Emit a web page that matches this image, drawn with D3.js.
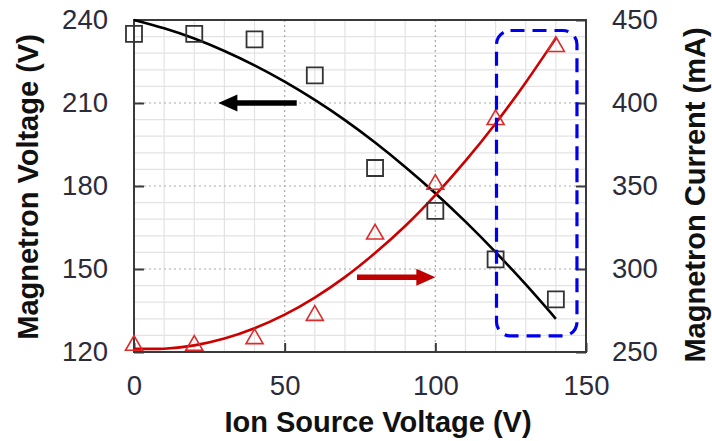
<!DOCTYPE html>
<html>
<head>
<meta charset="utf-8">
<script src="https://cdn.jsdelivr.net/npm/d3@7"></script>
<style>
  html, body { margin: 0; padding: 0; background: #fff; }
  svg { display: block; }
</style>
</head>
<body>
<svg id="chart" width="712" height="441"></svg>
<script>
// Ion source voltage (V) at each measurement
const ionVoltage = [0, 20, 40, 60, 80, 100, 120, 140];
// Magnetron voltage (V), left axis, square markers
const magnetronVoltage = [235, 235, 233, 220, 186.5, 171, 153.5, 139];
// Magnetron current (mA), right axis, triangle markers
const magnetronCurrent = [254, 254, 258, 272, 321, 351, 390, 434];

// Trend lines
const trendX = [0, 10, 20, 30, 40, 50, 60, 70, 80, 90, 100, 110, 120, 130, 140];
const voltageTrend = [240, 237, 233.3, 228.8, 223.6, 217.7, 211.1, 203.8, 195.7, 186.9, 177.4, 167.1, 156.1, 144.4, 132];
const currentTrend = [252, 252, 254, 258.1, 264.3, 272.5, 282.8, 295.1, 309.6, 325.9, 344.5, 365.1, 387.7, 412.4, 439];

// Axis ticks
const xTicks = [0, 50, 100, 150];
const yLeftTicks = [120, 150, 180, 210, 240];
const yRightTicks = [250, 300, 350, 400, 450];

const svg = d3.select("#chart");
const M = { left: 134, right: 586, top: 20, bottom: 352 };

const x = d3.scaleLinear().domain([0, 150]).range([M.left, M.right]);
const yL = d3.scaleLinear().domain([120, 240]).range([M.bottom, M.top]);
const yR = d3.scaleLinear().domain([250, 450]).range([M.bottom, M.top]);

// Minor grid
const grid = svg.append("g");
grid.selectAll("line.vx").data(d3.range(10, 150, 10).filter(v => v % 50 !== 0))
  .join("line")
  .attr("x1", d => x(d)).attr("x2", d => x(d))
  .attr("y1", M.top).attr("y2", M.bottom)
  .attr("stroke", "#e3e3e3").attr("stroke-width", 1.2);
grid.selectAll("line.hy").data(d3.range(126, 240, 6).filter(v => (v - 120) % 30 !== 0))
  .join("line")
  .attr("x1", M.left).attr("x2", M.right)
  .attr("y1", d => yL(d)).attr("y2", d => yL(d))
  .attr("stroke", "#e3e3e3").attr("stroke-width", 1.2);
// Major grid (dotted)
grid.selectAll("line.mx").data([50, 100])
  .join("line")
  .attr("x1", d => x(d)).attr("x2", d => x(d))
  .attr("y1", M.top).attr("y2", M.bottom)
  .attr("stroke", "#aaaaaa").attr("stroke-width", 1.2).attr("stroke-dasharray", "2,3");
grid.selectAll("line.my").data([150, 180, 210])
  .join("line")
  .attr("x1", M.left).attr("x2", M.right)
  .attr("y1", d => yL(d)).attr("y2", d => yL(d))
  .attr("stroke", "#aaaaaa").attr("stroke-width", 1.2).attr("stroke-dasharray", "2,3");

// Plot frame
svg.append("rect")
  .attr("x", M.left).attr("y", M.top)
  .attr("width", M.right - M.left).attr("height", M.bottom - M.top)
  .attr("fill", "none").attr("stroke", "#3a3a3a").attr("stroke-width", 2);

// Axes with inward ticks
function styleAxis(g) {
  g.select(".domain").remove();
  g.selectAll(".tick line").attr("stroke", "#3a3a3a").attr("stroke-width", 2);
  g.selectAll(".tick text")
    .attr("fill", "#2b2b3a")
    .style("font-family", "'Liberation Sans', Arial, sans-serif")
    .style("font-size", "27.5px");
}
svg.append("g").attr("transform", `translate(${M.left},0)`)
  .call(d3.axisLeft(yL).tickValues(yLeftTicks).tickSize(-10).tickPadding(26))
  .call(styleAxis);
svg.append("g").attr("transform", `translate(${M.right},0)`)
  .call(d3.axisRight(yR).tickValues(yRightTicks).tickSize(-10).tickPadding(26))
  .call(styleAxis);
svg.append("g").attr("transform", `translate(0,${M.bottom})`)
  .call(d3.axisBottom(x).tickValues(xTicks).tickSize(-9).tickPadding(23))
  .call(styleAxis);

// Trend curves
const lineL = d3.line().x((d, i) => x(trendX[i])).y(d => yL(d)).curve(d3.curveNatural);
const lineR = d3.line().x((d, i) => x(trendX[i])).y(d => yR(d)).curve(d3.curveNatural);
svg.append("path").attr("d", lineL(voltageTrend))
  .attr("fill", "none").attr("stroke", "#000").attr("stroke-width", 2.6);
svg.append("path").attr("d", lineR(currentTrend))
  .attr("fill", "none").attr("stroke", "#cc0000").attr("stroke-width", 2.6);

// Markers
svg.append("g").selectAll("path").data(magnetronVoltage).join("path")
  .attr("transform", (d, i) => `translate(${x(ionVoltage[i])},${yL(d)})`)
  .attr("d", d3.symbol(d3.symbolSquare, 256))
  .attr("fill", "none").attr("stroke", "#333").attr("stroke-width", 1.8);
svg.append("g").selectAll("path").data(magnetronCurrent).join("path")
  .attr("transform", (d, i) => `translate(${x(ionVoltage[i])},${yR(d)})`)
  .attr("d", d3.symbol(d3.symbolTriangle, 125))
  .attr("fill", "none").attr("stroke", "#dd2a2a").attr("stroke-width", 1.6);

// Arrows pointing to each series' axis
function arrow(x0, x1, yPix, color) {
  const dir = Math.sign(x1 - x0);
  const headLen = 19, headHalf = 8.5, shaftHalf = 2.8;
  const xb = x1 - dir * headLen;
  const pts = [
    [x0, yPix - shaftHalf], [xb, yPix - shaftHalf], [xb, yPix - headHalf],
    [x1, yPix], [xb, yPix + headHalf], [xb, yPix + shaftHalf], [x0, yPix + shaftHalf]
  ];
  svg.append("path").attr("d", d3.line()(pts) + "Z").attr("fill", color);
}
arrow(x(54), x(28), yL(210), "#000");
arrow(x(74), x(100), yR(295), "#c00000");

// Highlight box around the last two measurements
const bx0 = x(120.3), bx1 = x(147), by0 = yL(236.2), by1 = yL(125.8);
svg.append("rect")
  .attr("x", bx0).attr("y", by0)
  .attr("width", bx1 - bx0).attr("height", by1 - by0)
  .attr("rx", 14).attr("ry", 14)
  .attr("fill", "none").attr("stroke", "#0000ee").attr("stroke-width", 3.2)
  .attr("stroke-dasharray", "14,8");

// Axis titles
const titleFont = "'Liberation Sans', Arial, sans-serif";
svg.append("text")
  .attr("transform", `translate(38,187) rotate(-90)`)
  .attr("text-anchor", "middle")
  .style("font-family", titleFont).style("font-weight", "bold").style("font-size", "29px")
  .attr("fill", "#111")
  .text("Magnetron Voltage (V)");
svg.append("text")
  .attr("transform", `translate(705,195) rotate(-90)`)
  .attr("text-anchor", "middle")
  .style("font-family", titleFont).style("font-weight", "bold").style("font-size", "29px")
  .attr("fill", "#111")
  .text("Magnetron Current (mA)");
svg.append("text")
  .attr("x", 378).attr("y", 432)
  .attr("text-anchor", "middle")
  .style("font-family", titleFont).style("font-weight", "bold").style("font-size", "29px")
  .attr("fill", "#111")
  .text("Ion Source Voltage (V)");
</script>
</body>
</html>
